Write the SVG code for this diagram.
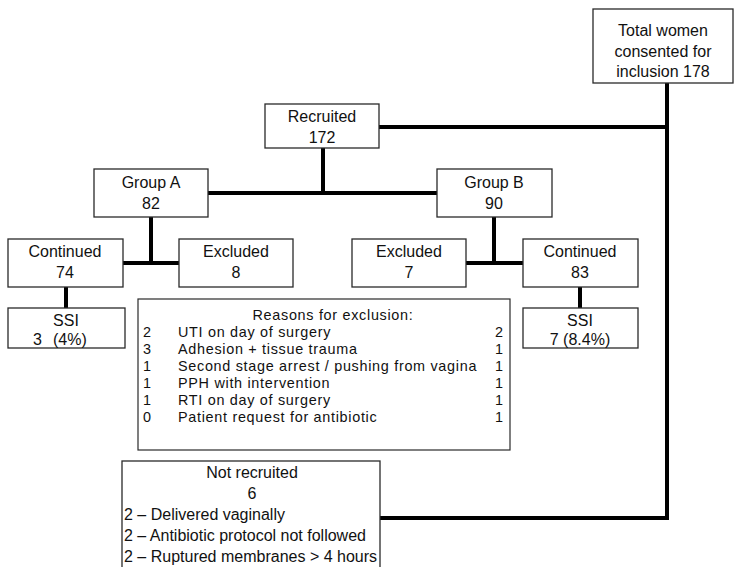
<svg xmlns="http://www.w3.org/2000/svg" width="734" height="567" viewBox="0 0 734 567">
<style>
.box{fill:#fff;stroke:#2a2a2a;stroke-width:1.3}
.rbox{fill:#fff;stroke:#2a2a2a;stroke-width:1.2}
.t{font-family:"Liberation Sans",Arial,sans-serif;font-size:16px;fill:#111}
.c{text-anchor:middle}
.r{font-family:"Liberation Sans",Arial,sans-serif;font-size:14.4px;letter-spacing:0.7px;fill:#111}
.conn{stroke:#000;stroke-width:4;fill:none}
</style>
<rect width="734" height="567" fill="#fff"/>
<g id="connectors" class="conn">
<path d="M667 83V518"/>
<path d="M379 127H669"/>
<path d="M380 518H669"/>
<path d="M323 148V195"/>
<path d="M208 193H437"/>
<path d="M151 217V265"/>
<path d="M123 263H179"/>
<path d="M494 217V265"/>
<path d="M466 263H523"/>
<path d="M66 287V308"/>
<path d="M580 287V308"/>
</g>
<g id="total">
<rect class="box" x="593" y="9" width="140" height="74"/>
<text class="t c" x="663" y="36">Total women</text>
<text class="t c" x="663" y="57">consented for</text>
<text class="t c" x="663" y="77">inclusion 178</text>
</g>
<g id="recruited">
<rect class="box" x="265" y="104" width="114" height="44"/>
<text class="t c" x="322" y="122">Recruited</text>
<text class="t c" x="322" y="143">172</text>
</g>
<g id="groupA">
<rect class="box" x="94" y="169" width="114" height="48"/>
<text class="t c" x="151" y="188">Group A</text>
<text class="t c" x="151" y="209">82</text>
</g>
<g id="groupB">
<rect class="box" x="437" y="169" width="115" height="48"/>
<text class="t c" x="494" y="188">Group B</text>
<text class="t c" x="494" y="209">90</text>
</g>
<g id="continuedA">
<rect class="box" x="8" y="239" width="115" height="48"/>
<text class="t c" x="65" y="257">Continued</text>
<text class="t c" x="65" y="278">74</text>
</g>
<g id="excludedA">
<rect class="box" x="179" y="239" width="114" height="48"/>
<text class="t c" x="236" y="257">Excluded</text>
<text class="t c" x="236" y="278">8</text>
</g>
<g id="excludedB">
<rect class="box" x="352" y="239" width="114" height="48"/>
<text class="t c" x="409" y="257">Excluded</text>
<text class="t c" x="409" y="278">7</text>
</g>
<g id="continuedB">
<rect class="box" x="523" y="239" width="115" height="48"/>
<text class="t c" x="580" y="257">Continued</text>
<text class="t c" x="580" y="278">83</text>
</g>
<g id="ssiA">
<rect class="box" x="8" y="308" width="117" height="40"/>
<text class="t c" x="66" y="326">SSI</text>
<text class="t" x="33" y="345"><tspan>3</tspan><tspan x="53">(4%)</tspan></text>
</g>
<g id="ssiB">
<rect class="box" x="523" y="308" width="115" height="40"/>
<text class="t c" x="580" y="326">SSI</text>
<text class="t c" x="580" y="345">7 (8.4%)</text>
</g>
<g id="reasons">
<rect class="rbox" x="138" y="299" width="372" height="151"/>
<text class="r c" x="333" y="320">Reasons for exclusion:</text>
<g class="r">
<text x="143" y="337">2</text><text x="178" y="337">UTI on day of surgery</text><text x="495" y="337">2</text>
<text x="143" y="354">3</text><text x="178" y="354">Adhesion + tissue trauma</text><text x="495" y="354">1</text>
<text x="143" y="371">1</text><text x="178" y="371">Second stage arrest / pushing from vagina</text><text x="495" y="371">1</text>
<text x="143" y="388">1</text><text x="178" y="388">PPH with intervention</text><text x="495" y="388">1</text>
<text x="143" y="405">1</text><text x="178" y="405">RTI on day of surgery</text><text x="495" y="405">1</text>
<text x="143" y="422">0</text><text x="178" y="422">Patient request for antibiotic</text><text x="495" y="422">1</text>
</g>
</g>
<g id="notrecruited">
<rect class="box" x="122" y="461" width="258" height="112"/>
<text class="t c" x="252" y="478">Not recruited</text>
<text class="t c" x="252" y="499">6</text>
<text class="t" x="124" y="520">2 – Delivered vaginally</text>
<text class="t" x="124" y="541">2 – Antibiotic protocol not followed</text>
<text class="t" x="124" y="562">2 – Ruptured membranes &gt; 4 hours</text>
</g>
</svg>
